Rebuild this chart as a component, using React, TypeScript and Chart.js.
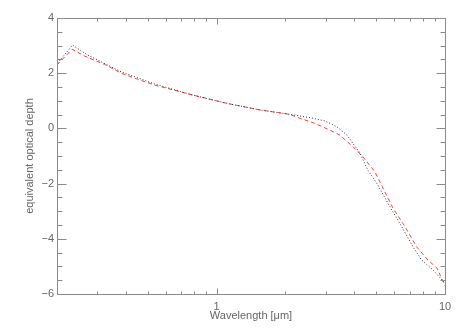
import React, { useEffect, useRef } from "react";
import { Chart, registerables } from "chart.js";

Chart.register(...registerables);

// Series 1: black dotted
const wavelengthDotted = [0.201, 0.234, 0.272, 0.382, 0.535, 0.785, 1.106, 1.545, 2.09, 2.64, 2.98, 3.36, 3.72, 4.24, 4.59, 5.02, 5.74, 6.46, 7.24, 7.9, 8.86, 10.0];
const depthDotted = [2.36, 3.02, 2.66, 2.05, 1.61, 1.21, 0.91, 0.67, 0.51, 0.37, 0.27, 0.06, -0.24, -0.89, -1.51, -1.98, -2.84, -3.56, -4.29, -4.77, -5.13, -5.61];

// Series 2: red dashed
const wavelengthDashed = [0.2, 0.233, 0.264, 0.323, 0.382, 0.451, 0.535, 0.785, 1.106, 1.545, 2.09, 2.31, 2.64, 3.13, 3.46, 3.95, 4.37, 4.93, 5.91, 6.68, 7.51, 8.42, 9.22, 10.0];
const depthDashed = [2.3, 2.87, 2.62, 2.32, 2.0, 1.78, 1.57, 1.21, 0.91, 0.67, 0.51, 0.37, 0.21, -0.06, -0.24, -0.66, -1.03, -1.57, -2.88, -3.56, -4.29, -4.77, -5.06, -5.71];

// Axis ticks
const xMajorTicks = [1, 10];
const xMinorTicks = [0.2, 0.3, 0.4, 0.5, 0.6, 0.7, 0.8, 0.9, 2, 3, 4, 5, 6, 7, 8, 9];
const yMajorTicks = [-6, -4, -2, 0, 2, 4];
const yMinorTicks = [-5.5, -5, -4.5, -3.5, -3, -2.5, -1.5, -1, -0.5, 0.5, 1, 1.5, 2.5, 3, 3.5];

const xTitle = "Wavelength [\u03bcm]";
const yTitle = "equivalent optical depth";

const AXIS_COLOR = "#8a8a8a";
const TEXT_COLOR = "#666666";
const FONT_FAMILY = '"Liberation Sans", Arial, sans-serif';

const fmt = (v: number) => (v < 0 ? "\u2212" + Math.abs(v) : String(v));

const framePlugin = {
  id: "idlFrame",
  afterDraw(chart: any) {
    const { ctx, chartArea, scales } = chart;
    const xs = scales.x;
    const ys = scales.y;
    const L = chartArea.left + 0.5;
    const R = chartArea.right + 0.5;
    const T = chartArea.top + 0.5;
    const B = chartArea.bottom + 0.5;
    ctx.save();
    ctx.strokeStyle = AXIS_COLOR;
    ctx.lineWidth = 1;
    ctx.beginPath();
    ctx.rect(L, T, R - L, B - T);
    ctx.stroke();

    const drawX = (v: number, len: number) => {
      const p = Math.round(xs.getPixelForValue(v)) + 0.5;
      ctx.moveTo(p, B);
      ctx.lineTo(p, B - len);
      ctx.moveTo(p, T);
      ctx.lineTo(p, T + len);
    };
    const drawY = (v: number, len: number) => {
      const p = Math.round(ys.getPixelForValue(v)) + 0.5;
      ctx.moveTo(L, p);
      ctx.lineTo(L + len, p);
      ctx.moveTo(R, p);
      ctx.lineTo(R - len, p);
    };
    ctx.beginPath();
    xMajorTicks.forEach((v) => drawX(v, 6));
    xMinorTicks.forEach((v) => drawX(v, 3));
    yMajorTicks.forEach((v) => drawY(v, 9));
    yMinorTicks.forEach((v) => drawY(v, 5));
    ctx.stroke();

    ctx.fillStyle = TEXT_COLOR;
    ctx.font = "11px " + FONT_FAMILY;
    ctx.textAlign = "center";
    ctx.textBaseline = "middle";
    ctx.fillText(xTitle, (chartArea.left + chartArea.right) / 2, 316);
    ctx.translate(30, (chartArea.top + chartArea.bottom) / 2);
    ctx.rotate(-Math.PI / 2);
    ctx.fillText(yTitle, 0, 0);
    ctx.restore();
  },
};

export default function App() {
  const ref = useRef<HTMLCanvasElement | null>(null);
  useEffect(() => {
    if (!ref.current) return;
    const chart = new Chart(ref.current, {
      type: "scatter",
      data: {
        datasets: [
          {
            data: wavelengthDotted.map((x, i) => ({ x, y: depthDotted[i] })),
            showLine: true,
            borderColor: "#333333",
            borderWidth: 1,
            borderDash: [1, 2],
            pointRadius: 0,
            tension: 0,
          },
          {
            data: wavelengthDashed.map((x, i) => ({ x, y: depthDashed[i] })),
            showLine: true,
            borderColor: "rgba(255,40,40,0.9)",
            borderWidth: 1,
            borderDash: [4, 3],
            pointRadius: 0,
            tension: 0,
          },
        ],
      },
      options: {
        animation: false,
        responsive: false,
        devicePixelRatio: 1,
        layout: { padding: { left: 0, right: 18, top: 18, bottom: 0 } },
        plugins: { legend: { display: false }, tooltip: { enabled: false } },
        scales: {
          x: {
            type: "logarithmic",
            min: 0.2,
            max: 10,
            grid: { display: false, drawTicks: false },
            border: { display: false },
            afterBuildTicks: (s: any) => {
              s.ticks = xMajorTicks.map((v) => ({ value: v }));
            },
            afterFit: (s: any) => {
              s.height = 37;
            },
            ticks: {
              autoSkip: false,
              maxRotation: 0,
              padding: 6,
              color: TEXT_COLOR,
              font: { family: FONT_FAMILY, size: 11 },
              callback: (v: any) => fmt(Number(v)),
            },
          },
          y: {
            type: "linear",
            min: -6,
            max: 4,
            grid: { display: false, drawTicks: false },
            border: { display: false },
            afterBuildTicks: (s: any) => {
              s.ticks = yMajorTicks.map((v) => ({ value: v }));
            },
            afterFit: (s: any) => {
              s.width = 57;
            },
            ticks: {
              padding: 3,
              color: TEXT_COLOR,
              font: { family: FONT_FAMILY, size: 11 },
              callback: (v: any) => fmt(Number(v)),
            },
          },
        },
      },
      plugins: [framePlugin],
    } as any);
    return () => chart.destroy();
  }, []);
  return (
    <div style={{ position: "fixed", left: 0, top: 0, width: 463, height: 331, background: "#fff" }}>
      <canvas ref={ref} width={463} height={331} style={{ display: "block" }} />
    </div>
  );
}
